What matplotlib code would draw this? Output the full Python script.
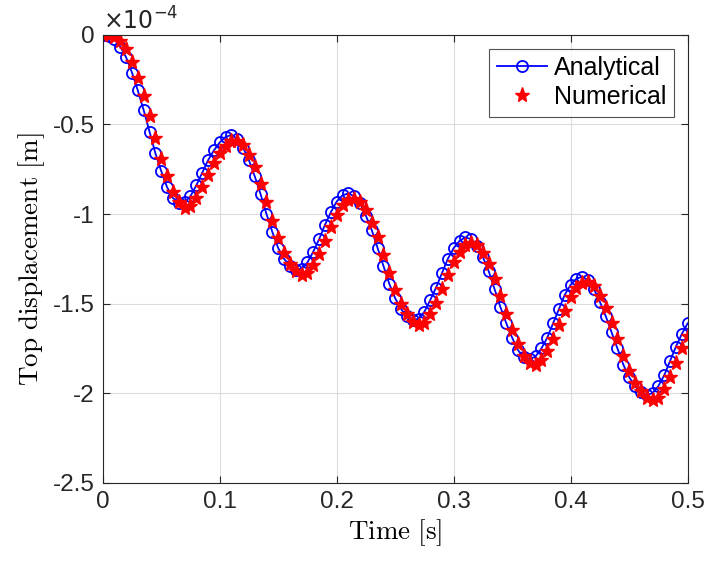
import numpy as np
import matplotlib
matplotlib.use("Agg")
import matplotlib.pyplot as plt

# --- Data (displacement in units of 1e-4 m), sampled every 0.005 s ---
time_s = np.round(np.arange(0, 101) * 0.005, 3)

analytical = [
    0.000, -0.005, -0.025, -0.065, -0.125, -0.21, -0.31, -0.42, -0.54, -0.66,
    -0.76, -0.85, -0.91, -0.94, -0.935, -0.90, -0.84, -0.77, -0.70, -0.645,
    -0.60, -0.57, -0.558, -0.58, -0.63, -0.70, -0.79, -0.89, -1.00, -1.10,
    -1.19, -1.25, -1.29, -1.31, -1.305, -1.27, -1.21, -1.14, -1.06, -0.99,
    -0.93, -0.895, -0.885, -0.90, -0.94, -1.01, -1.09, -1.19, -1.29, -1.39,
    -1.47, -1.53, -1.57, -1.59, -1.585, -1.545, -1.48, -1.41, -1.33, -1.25,
    -1.19, -1.15, -1.13, -1.14, -1.18, -1.24, -1.32, -1.42, -1.52, -1.61,
    -1.69, -1.76, -1.80, -1.81, -1.795, -1.75, -1.69, -1.61, -1.53, -1.45,
    -1.395, -1.36, -1.35, -1.37, -1.42, -1.49, -1.57, -1.66, -1.75, -1.84,
    -1.91, -1.96, -1.995, -2.01, -2.00, -1.96, -1.90, -1.82, -1.74, -1.67,
    -1.61,
]

numerical = [
    0.000, 0.000, -0.01, -0.035, -0.08, -0.15, -0.24, -0.34, -0.455, -0.575,
    -0.69, -0.79, -0.875, -0.935, -0.965, -0.955, -0.91, -0.85, -0.78, -0.715,
    -0.66, -0.62, -0.595, -0.59, -0.615, -0.67, -0.74, -0.83, -0.93, -1.04,
    -1.135, -1.22, -1.28, -1.32, -1.34, -1.33, -1.285, -1.225, -1.15, -1.075,
    -1.005, -0.95, -0.92, -0.915, -0.935, -0.98, -1.05, -1.13, -1.23, -1.33,
    -1.425, -1.50, -1.56, -1.60, -1.62, -1.61, -1.56, -1.495, -1.42, -1.34,
    -1.265, -1.21, -1.175, -1.16, -1.175, -1.215, -1.28, -1.36, -1.46, -1.56,
    -1.645, -1.725, -1.79, -1.83, -1.84, -1.815, -1.765, -1.70, -1.62, -1.54,
    -1.465, -1.415, -1.385, -1.38, -1.40, -1.455, -1.525, -1.61, -1.70, -1.79,
    -1.875, -1.945, -1.99, -2.025, -2.04, -2.025, -1.975, -1.91, -1.83, -1.75,
    -1.68,
]

x_ticks = [0, 0.1, 0.2, 0.3, 0.4, 0.5]
y_ticks = [0, -0.5, -1, -1.5, -2, -2.5]

# --- Style ---
plt.rcParams['font.family'] = ['Liberation Sans', 'DejaVu Sans']
plt.rcParams['mathtext.fontset'] = 'cm'
plt.rcParams['axes.unicode_minus'] = False

fig = plt.figure(figsize=(7.07, 5.63), dpi=100)
ax = fig.add_axes([0.1453, 0.1425, 0.8273, 0.7955])

ax.plot(time_s, analytical, color='blue', lw=1.3, marker='o', ms=8,
        mfc='none', mec='blue', mew=1.3, label='Analytical')
ax.plot(time_s, numerical, ls='none', marker='*', ms=11, color='red',
        mec='red', label='Numerical')

ax.set_xlim(0, 0.5)
ax.set_ylim(-2.5, 0)
ax.set_xticks(x_ticks)
ax.set_xticklabels(['0', '0.1', '0.2', '0.3', '0.4', '0.5'])
ax.set_yticks(y_ticks)
ax.set_yticklabels(['0', '-0.5', '-1', '-1.5', '-2', '-2.5'])

ax.grid(True, color='#dcdcdc', lw=0.8)
ax.set_axisbelow(True)
ax.tick_params(direction='in', top=True, right=True, labelsize=17.5,
               length=5, color='#262626', labelcolor='#262626', pad=6)
for s in ax.spines.values():
    s.set_color('#262626')
    s.set_linewidth(0.8)

ax.set_xlabel(r'$\mathrm{Time\ [s]}$', fontsize=19.5, labelpad=3)
ax.set_ylabel(r'$\mathrm{Top\ displacement\ [m]}$', fontsize=19.5, labelpad=4)

ax.text(0.0, 1.0, r'$\times10^{-4}$', transform=ax.transAxes,
        fontsize=17, color='#262626', ha='left', va='bottom',
        math_fontfamily='dejavusans')

leg = ax.legend(loc='upper right', fontsize=18, frameon=True, fancybox=False,
                borderaxespad=0.55, handlelength=2.0, borderpad=0.3,
                labelspacing=0.2, handletextpad=0.3)
leg.get_frame().set_edgecolor('#262626')
leg.get_frame().set_linewidth(0.8)

fig.savefig('out.png', dpi=100)
